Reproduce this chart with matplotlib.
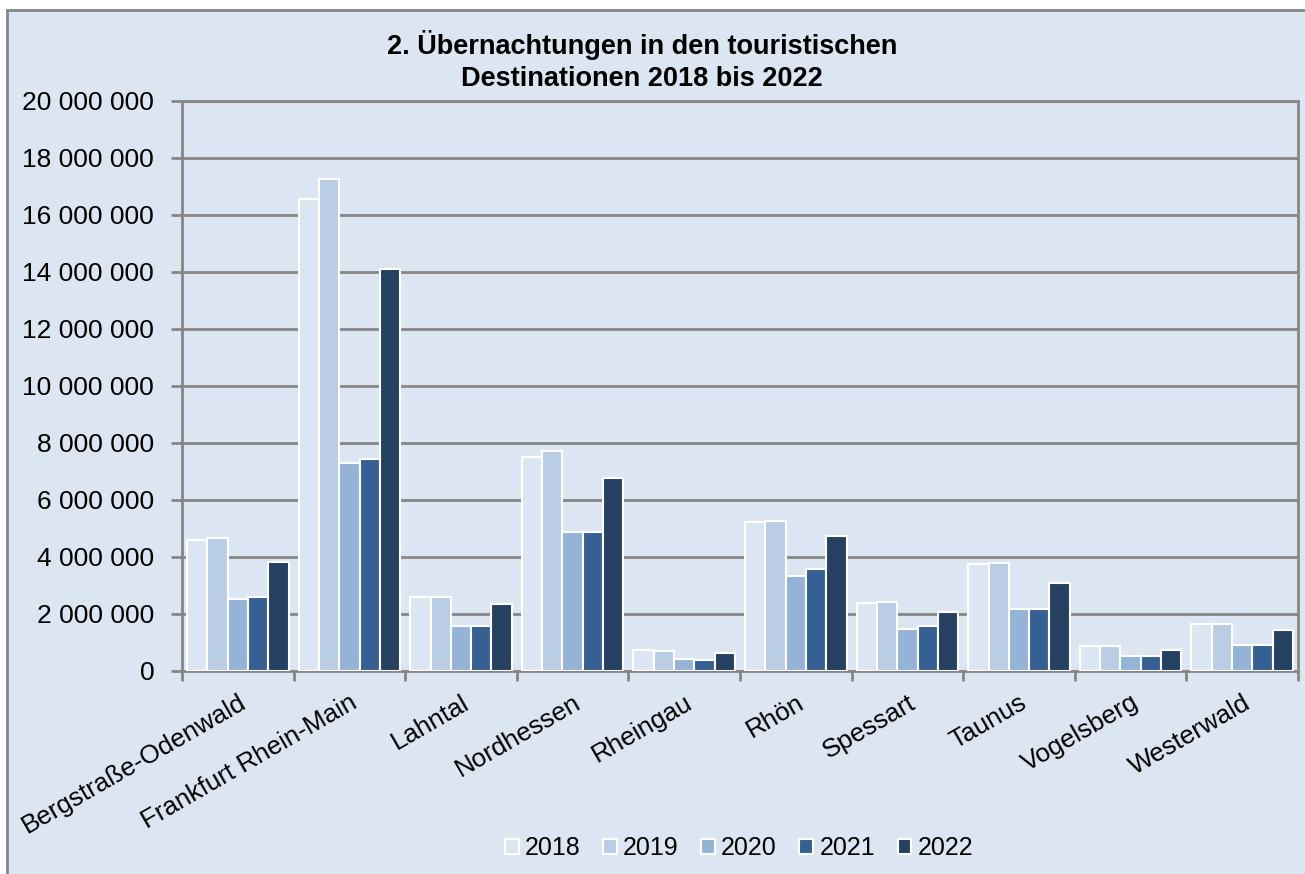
import numpy as np
import matplotlib.pyplot as plt
from matplotlib.patches import Rectangle
from matplotlib.ticker import FuncFormatter, MultipleLocator

# Daten
regionen = ['Bergstraße-Odenwald', 'Frankfurt Rhein-Main', 'Lahntal', 'Nordhessen',
            'Rheingau', 'Rhön', 'Spessart', 'Taunus', 'Vogelsberg', 'Westerwald']
jahre = ['2018', '2019', '2020', '2021', '2022']
w2018 = [4590000, 16570000, 2600000, 7500000, 740000, 5220000, 2380000, 3750000, 890000, 1640000]
w2019 = [4650000, 17260000, 2600000, 7710000, 710000, 5250000, 2410000, 3790000, 870000, 1640000]
w2020 = [2520000, 7310000, 1580000, 4870000, 410000, 3320000, 1460000, 2180000, 520000, 910000]
w2021 = [2580000, 7420000, 1570000, 4870000, 390000, 3560000, 1580000, 2180000, 520000, 900000]
w2022 = [3820000, 14090000, 2350000, 6760000, 620000, 4730000, 2070000, 3100000, 730000, 1450000]
werte = [w2018, w2019, w2020, w2021, w2022]
farben = ['#DCE6F2', '#B9CDE5', '#95B3D7', '#376092', '#254061']

bg = '#DCE6F2'
grau = '#868686'

fig = plt.figure(figsize=(13.05, 8.74), dpi=100)
fig.patch.set_facecolor('white')
plt.rcParams['font.family'] = ['Liberation Sans', 'DejaVu Sans']

# äußerer Rahmen
rahmen = Rectangle((7 / 1305, -0.05), 1.2, 1 - 10 / 874 + 0.05,
                   transform=fig.transFigure, facecolor=bg,
                   edgecolor=grau, linewidth=2, zorder=-10)
fig.patches.append(rahmen)

ax = fig.add_axes([182 / 1305, 1 - 671 / 874, (1298 - 182) / 1305, (671 - 100.7) / 874])
ax.set_facecolor(bg)

x = np.arange(len(regionen))
bw = 0.909 / 5
for i, (jahr, v, c) in enumerate(zip(jahre, werte, farben)):
    pos = x - 0.909 / 2 + bw * (i + 0.5)
    ax.bar(pos, v, width=bw, color=c, edgecolor='white', linewidth=1.5,
           label=jahr, zorder=3)

ax.set_xlim(-0.5, len(regionen) - 0.5)
ax.set_ylim(0, 20000000)
ax.yaxis.set_major_locator(MultipleLocator(2000000))
ax.yaxis.set_major_formatter(FuncFormatter(lambda v, p: f'{int(v):,}'.replace(',', ' ')))
ax.grid(axis='y', color=grau, linewidth=2, zorder=1)
ax.set_axisbelow(True)
for s in ax.spines.values():
    s.set_color(grau)
    s.set_linewidth(2)

ax.set_xticks(np.arange(len(regionen) + 1) - 0.5)
ax.set_xticklabels([])
ax.set_xticks(x, minor=True)
ax.set_xticklabels(regionen, minor=True, rotation=30, ha='right',
                   rotation_mode='anchor', fontsize=18.7)
ax.tick_params(axis='x', which='major', length=7, width=2, color=grau, direction='out')
ax.tick_params(axis='x', which='minor', length=0, pad=14)
ax.tick_params(axis='y', length=8, width=2, color=grau, labelsize=19, pad=12)

fig.text(642 / 1305, 1 - 61.5 / 874, '2. Übernachtungen in den touristischen\nDestinationen 2018 bis 2022',
         ha='center', va='center', fontsize=19.5, fontweight='bold', linespacing=1.3)

ax.legend(loc='center', bbox_to_anchor=(739 / 1305, 1 - 848 / 874),
          bbox_transform=fig.transFigure, ncol=5, frameon=False, fontsize=18,
          handlelength=0.55, handleheight=0.55, handletextpad=0.25, columnspacing=0.9)

fig.savefig('out.png', dpi=100)
